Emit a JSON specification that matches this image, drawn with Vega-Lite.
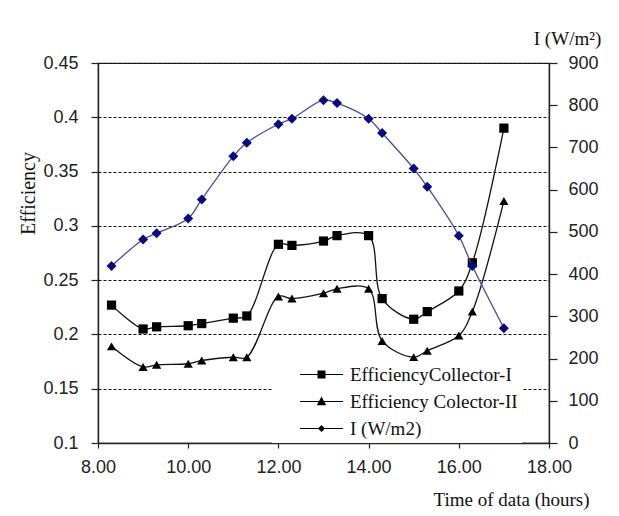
{
  "$schema": "https://vega.github.io/schema/vega-lite/v6.json",
  "autosize": {"type": "none"},
  "padding": {"left": 98, "top": 63, "right": 70, "bottom": 73},
  "width": 451,
  "height": 380,
  "background": "white",
  "config": {
    "font": "Liberation Serif",
    "view": {"stroke": "#222", "strokeWidth": 1.2},
    "axis": {
      "labelFont": "Liberation Sans",
      "labelFontSize": 18,
      "labelColor": "#222",
      "titleFont": "Liberation Serif",
      "titleFontSize": 19,
      "titleFontWeight": "normal",
      "titleColor": "#111",
      "domainColor": "#222",
      "domainWidth": 1.4,
      "tickColor": "#222",
      "tickWidth": 1.2
    },
    "legend": {
      "labelFont": "Liberation Serif"
    }
  },
  "datasets": {
    "eff": [
      {"t": 8.3, "series": "EfficiencyCollector-I", "value": 0.227},
      {"t": 9.0, "series": "EfficiencyCollector-I", "value": 0.205},
      {"t": 9.3, "series": "EfficiencyCollector-I", "value": 0.207},
      {"t": 10.0, "series": "EfficiencyCollector-I", "value": 0.208},
      {"t": 10.3, "series": "EfficiencyCollector-I", "value": 0.210},
      {"t": 11.0, "series": "EfficiencyCollector-I", "value": 0.215},
      {"t": 11.3, "series": "EfficiencyCollector-I", "value": 0.217},
      {"t": 12.0, "series": "EfficiencyCollector-I", "value": 0.283},
      {"t": 12.3, "series": "EfficiencyCollector-I", "value": 0.282},
      {"t": 13.0, "series": "EfficiencyCollector-I", "value": 0.286},
      {"t": 13.3, "series": "EfficiencyCollector-I", "value": 0.291},
      {"t": 14.0, "series": "EfficiencyCollector-I", "value": 0.291},
      {"t": 14.3, "series": "EfficiencyCollector-I", "value": 0.233},
      {"t": 15.0, "series": "EfficiencyCollector-I", "value": 0.214},
      {"t": 15.3, "series": "EfficiencyCollector-I", "value": 0.221},
      {"t": 16.0, "series": "EfficiencyCollector-I", "value": 0.240},
      {"t": 16.3, "series": "EfficiencyCollector-I", "value": 0.266},
      {"t": 17.0, "series": "EfficiencyCollector-I", "value": 0.390},
      {"t": 8.3, "series": "Efficiency Colector-II", "value": 0.189},
      {"t": 9.0, "series": "Efficiency Colector-II", "value": 0.170},
      {"t": 9.3, "series": "Efficiency Colector-II", "value": 0.172},
      {"t": 10.0, "series": "Efficiency Colector-II", "value": 0.173},
      {"t": 10.3, "series": "Efficiency Colector-II", "value": 0.176},
      {"t": 11.0, "series": "Efficiency Colector-II", "value": 0.179},
      {"t": 11.3, "series": "Efficiency Colector-II", "value": 0.179},
      {"t": 12.0, "series": "Efficiency Colector-II", "value": 0.235},
      {"t": 12.3, "series": "Efficiency Colector-II", "value": 0.233},
      {"t": 13.0, "series": "Efficiency Colector-II", "value": 0.238},
      {"t": 13.3, "series": "Efficiency Colector-II", "value": 0.242},
      {"t": 14.0, "series": "Efficiency Colector-II", "value": 0.242},
      {"t": 14.3, "series": "Efficiency Colector-II", "value": 0.194},
      {"t": 15.0, "series": "Efficiency Colector-II", "value": 0.179},
      {"t": 15.3, "series": "Efficiency Colector-II", "value": 0.185},
      {"t": 16.0, "series": "Efficiency Colector-II", "value": 0.199},
      {"t": 16.3, "series": "Efficiency Colector-II", "value": 0.221},
      {"t": 17.0, "series": "Efficiency Colector-II", "value": 0.323}
    ],
    "irr": [
      {"t": 8.3, "I": 419},
      {"t": 9.0, "I": 482},
      {"t": 9.3, "I": 497},
      {"t": 10.0, "I": 532},
      {"t": 10.3, "I": 577},
      {"t": 11.0, "I": 679},
      {"t": 11.3, "I": 711},
      {"t": 12.0, "I": 755},
      {"t": 12.3, "I": 768},
      {"t": 13.0, "I": 812},
      {"t": 13.3, "I": 805},
      {"t": 14.0, "I": 768},
      {"t": 14.3, "I": 734},
      {"t": 15.0, "I": 650},
      {"t": 15.3, "I": 607},
      {"t": 16.0, "I": 491},
      {"t": 16.3, "I": 419},
      {"t": 17.0, "I": 272}
    ]
  },
  "layer": [
    {
      "data": {"name": "eff"},
      "encoding": {
        "x": {
          "field": "t", "type": "quantitative",
          "scale": {"domain": [8, 18], "nice": false, "zero": false},
          "axis": {
            "values": [8, 10, 12, 14, 16, 18], "format": ".2f",
            "tickSize": 5, "labelPadding": 10, "grid": false,
            "title": "Time of data (hours)",
            "titleX": 413, "titleY": 62, "titleBaseline": "alphabetic", "titleAlign": "center",
            "labelFlush": false
          }
        },
        "y": {
          "field": "value", "type": "quantitative",
          "scale": {"domain": [0.1, 0.45], "nice": false, "zero": false},
          "axis": {
            "orient": "left",
            "values": [0.1, 0.15, 0.2, 0.25, 0.3, 0.35, 0.4, 0.45], "format": ".2~f",
            "tickSize": 7, "labelPadding": 13,
            "grid": true, "gridDash": [3, 2], "gridColor": "#111", "gridWidth": 1,
            "title": "Efficiency", "titleFontSize": 20,
            "titleX": -60, "titleY": 130, "titleBaseline": "bottom", "titleAlign": "center",
            "labelFlush": false
          }
        }
      },
      "layer": [
        {
          "mark": {"type": "line", "interpolate": "catmull-rom", "color": "#111", "strokeWidth": 1.3},
          "encoding": {"detail": {"field": "series", "type": "nominal"}}
        },
        {
          "mark": {"type": "point", "filled": true, "opacity": 1, "color": "#000", "size": 85},
          "encoding": {
            "shape": {
              "field": "series", "type": "nominal",
              "scale": {"domain": ["EfficiencyCollector-I", "Efficiency Colector-II"], "range": ["square", "triangle-up"]},
              "legend": null
            }
          }
        }
      ]
    },
    {
      "data": {"name": "irr"},
      "encoding": {
        "x": {"field": "t", "type": "quantitative", "scale": {"domain": [8, 18], "nice": false, "zero": false}},
        "y": {
          "field": "I", "type": "quantitative",
          "scale": {"domain": [0, 900], "nice": false, "zero": true},
          "axis": {
            "orient": "right",
            "values": [0, 100, 200, 300, 400, 500, 600, 700, 800, 900],
            "tickSize": 8, "labelPadding": 11, "grid": false,
            "title": "I (W/m²)", "titleAngle": 0, "titleX": 18, "titleY": -19,
            "titleBaseline": "alphabetic", "titleAlign": "center",
            "labelFlush": false
          }
        }
      },
      "layer": [
        {
          "mark": {"type": "line", "interpolate": "catmull-rom", "color": "#4848a8", "strokeWidth": 1.3}
        },
        {
          "mark": {"type": "point", "shape": "diamond", "filled": true, "opacity": 1, "color": "#0a0a80", "size": 100}
        }
      ]
    },
    {
      "data": {"values": []},
      "mark": {"type": "point", "filled": true, "opacity": 1},
      "encoding": {
        "color": {
          "field": "series", "type": "nominal",
          "scale": {
            "domain": ["EfficiencyCollector-I", "Efficiency Colector-II", "I (W/m2)"],
            "range": ["#000000", "#000000", "#1a1a8c"]
          },
          "legend": {
            "orient": "none", "legendX": 174, "legendY": 298,
            "title": null,
            "symbolSize": 100, "symbolStrokeWidth": 0, "symbolOpacity": 1,
            "symbolOffset": 36, "labelOffset": 19,
            "labelFont": "Liberation Serif", "labelFontSize": 19, "labelColor": "#111", "labelLimit": 400,
            "rowPadding": 7, "padding": 4, "fillColor": "white", "strokeColor": null
          }
        },
        "shape": {
          "field": "series", "type": "nominal",
          "scale": {
            "domain": ["EfficiencyCollector-I", "Efficiency Colector-II", "I (W/m2)"],
            "range": [
              "M-4.3,-0.12H4.3V0.12H-4.3Z M-0.8,-0.8H0.8V0.8H-0.8Z",
              "M-4.3,-0.12H4.3V0.12H-4.3Z M0,-1L0.95,0.75H-0.95Z",
              "M-4.3,-0.12H4.3V0.12H-4.3Z M0,-0.7L0.7,0L0,0.7L-0.7,0Z"
            ]
          },
          "legend": {
            "orient": "none", "legendX": 174, "legendY": 298,
            "title": null,
            "symbolSize": 100, "symbolStrokeWidth": 0, "symbolOpacity": 1,
            "symbolOffset": 36, "labelOffset": 19,
            "labelFont": "Liberation Serif", "labelFontSize": 19, "labelColor": "#111", "labelLimit": 400,
            "rowPadding": 7, "padding": 4, "fillColor": "white", "strokeColor": null
          }
        }
      }
    }
  ],
  "resolve": {"scale": {"y": "independent", "shape": "independent"}}
}
